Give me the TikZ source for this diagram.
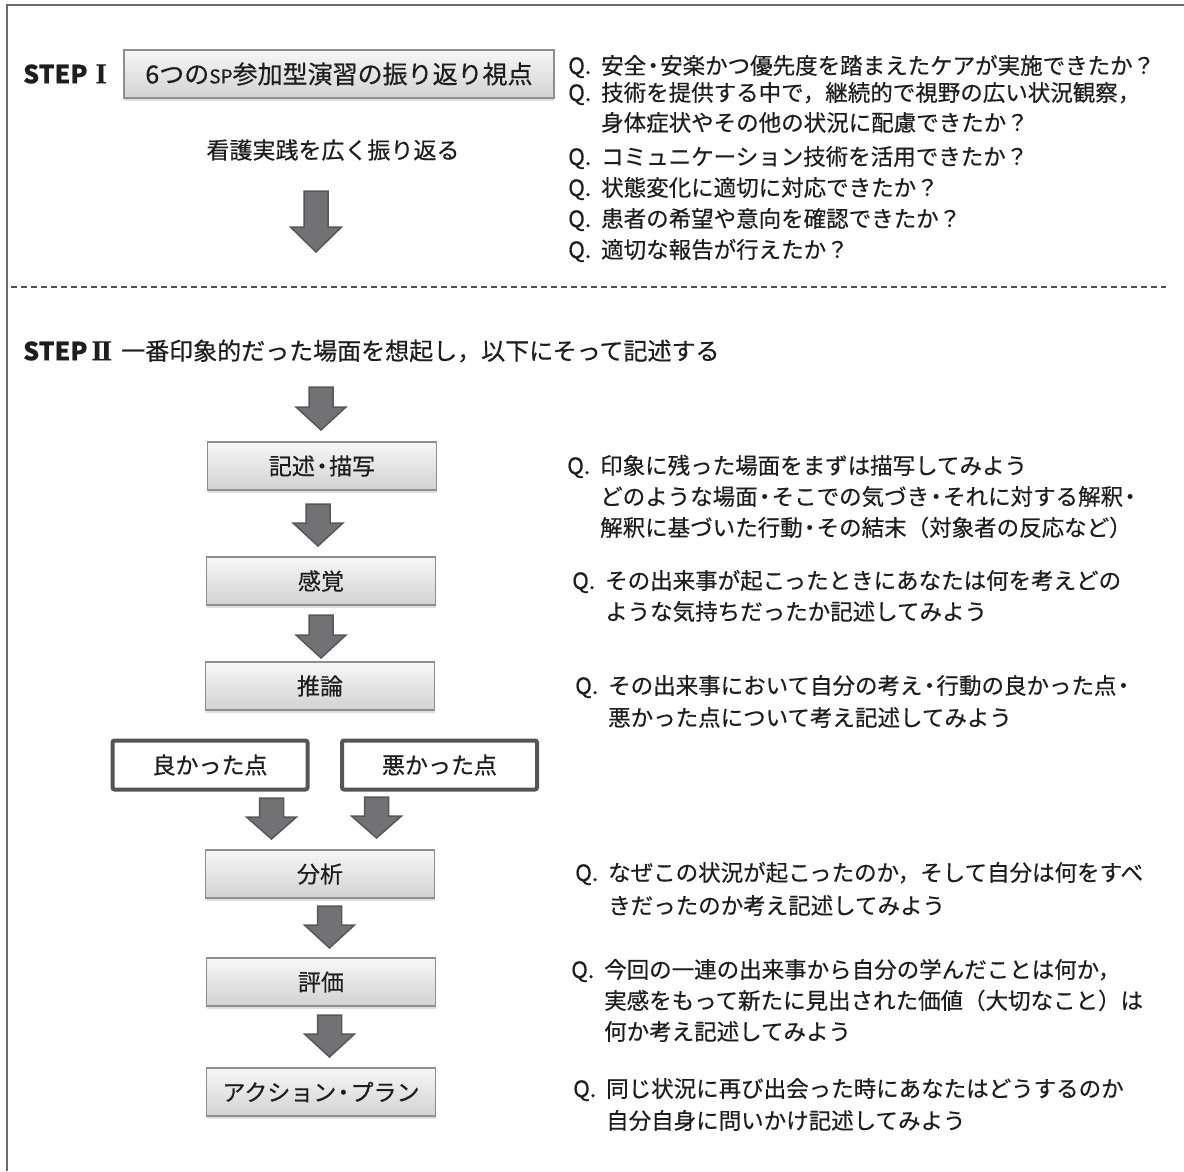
\documentclass[tikz,border=0pt]{standalone}
\usepackage{fontspec}
\usepackage{graphicx}
\setmainfont{Noto Sans CJK JP}[FakeBold=0.5]
\newfontfamily\numfont{Liberation Serif}[FakeBold=0.5]
\usetikzlibrary{calc,shadows}
\definecolor{framec}{HTML}{6B6B6B}
\definecolor{dashc}{HTML}{505050}
\definecolor{boxline}{HTML}{8E8E8E}
\definecolor{boxtop}{HTML}{F7F7F7}
\definecolor{boxbot}{HTML}{D2D2D2}
\definecolor{arrowfill}{HTML}{727274}
\definecolor{arrowline}{HTML}{575757}
\definecolor{thickline}{HTML}{555555}
\definecolor{txt}{HTML}{1E1E1E}
\newcommand{\Qm}{\makebox[33pt][l]{Q.}}
\newcommand{\QI}{\hspace*{33pt}}
\newcommand{\nd}{\makebox[0.62em][c]{・}}
\newcommand{\blockarrow}[5]{% top coordinate, total length, shaft length, shaft half width, head half width
  \filldraw[fill=arrowfill, draw=arrowline, line width=1.5pt, line join=miter]
    ($(#1)+(-#4,0)$) -- ($(#1)+(#4,0)$) -- ($(#1)+(#4,#3)$) -- ($(#1)+(#5,#3)$)
    -- ($(#1)+(0,#2)$) -- ($(#1)+(-#5,#3)$) -- ($(#1)+(-#4,#3)$) -- cycle;}
\tikzset{
  graybox/.style={draw=boxline, line width=1.2pt, top color=boxtop, bottom color=boxbot,
    minimum width=229pt, minimum height=48pt, inner sep=0pt, text=txt,
    font=\fontsize{23}{23}\selectfont,
    drop shadow={shadow xshift=0pt, shadow yshift=-3pt, opacity=0.25}},
  thickbox/.style={draw=thickline, line width=4pt, rounded corners=2pt, fill=white,
    minimum width=195pt, minimum height=49pt, inner sep=0pt, text=txt,
    font=\fontsize{23}{23}\selectfont},
  qline/.style={anchor=base west, inner sep=0pt, text=txt, font=\fontsize{22.5}{22.5}\selectfont},
  steplbl/.style={anchor=west, inner sep=0pt, text=txt, font=\bfseries\fontsize{25}{25}\selectfont},
  plaintext/.style={inner sep=0pt, text=txt, font=\fontsize{23}{23}\selectfont},
}
\begin{document}
\begin{tikzpicture}[x=1pt, y=-1pt]
\useasboundingbox (0,0) rectangle (1184,1171);
% frame
\draw[framec, line width=2.2pt] (7,1171) -- (7,5) -- (1184,5);
% ---------- STEP I ----------
\node[steplbl] (s1) at (23,74) {STEP\hspace{8pt}{\numfont\bfseries\fontsize{29}{29}\selectfont I}};
\node[graybox, minimum width=430pt, minimum height=48pt, font=\fontsize{25}{25}\selectfont] (b0) at (339,74)
  {6つの{\fontsize{19}{19}\selectfont SP}参加型演習の振り返り視点};
\node[plaintext] (kango) at (333,150) {看護実践を広く振り返る};
\coordinate (ar0) at (316,191);
\blockarrow{ar0}{61}{36}{12}{25.5}
\node[qline] (q1a) at (568,74) {\Qm 安全\nd 安楽かつ優先度を踏まえたケアが実施できたか？};
\node[qline] (q1b) at (568,101) {\Qm 技術を提供する中で，継続的で視野の広い状況観察，};
\node[qline] (q1c) at (568,131) {\QI 身体症状やその他の状況に配慮できたか？};
\node[qline] (q1d) at (568,165) {\Qm コミュニケーション技術を活用できたか？};
\node[qline] (q1e) at (568,196) {\Qm 状態変化に適切に対応できたか？};
\node[qline] (q1f) at (568,227) {\Qm 患者の希望や意向を確認できたか？};
\node[qline] (q1g) at (568,258) {\Qm 適切な報告が行えたか？};
% dashed separator
\draw[dashc, line width=1.4pt, dash pattern=on 6pt off 4pt] (11,287) -- (1166,287);
% ---------- STEP II ----------
\node[steplbl] (s2) at (23,351) {STEP\hspace{4pt}{\numfont\bfseries\fontsize{29}{29}\selectfont I\kern-2pt I}};
\node[plaintext, anchor=west, font=\fontsize{24}{24}\selectfont] (s2t) at (121,351) {一番印象的だった場面を想起し，以下にそって記述する};
\coordinate (ar1) at (321,387);
\blockarrow{ar1}{43}{20}{12}{25}
\node[graybox] (desc) at (322,466) {記述\nd 描写};
\coordinate (ar2) at (318,504);
\blockarrow{ar2}{42}{19}{12}{25}
\node[graybox] (sense) at (321,581) {感覚};
\coordinate (ar3) at (321,615);
\blockarrow{ar3}{43}{20}{12}{25}
\node[graybox] (infer) at (320,686) {推論};
\node[thickbox] (good) at (210,765) {良かった点};
\node[thickbox] (bad) at (439.5,765) {悪かった点};
\coordinate (ar4a) at (271.5,798);
\blockarrow{ar4a}{41}{19}{12}{25}
\coordinate (ar4b) at (376.5,797);
\blockarrow{ar4b}{41}{19}{12}{25}
\node[graybox] (anal) at (320,874) {分析};
\coordinate (ar5) at (329.5,906);
\blockarrow{ar5}{42}{19}{12}{25}
\node[graybox] (eval) at (321,982) {評価};
\coordinate (ar6) at (329.5,1015);
\blockarrow{ar6}{42}{19}{12}{25}
\node[graybox] (act) at (321,1092) {アクション\nd プラン};
% questions STEP II
\node[qline] (q2a) at (567,474) {\Qm 印象に残った場面をまずは描写してみよう};
\node[qline] (q2b) at (567,505) {\QI どのような場面\nd そこでの気づき\nd それに対する解釈\nd};
\node[qline] (q2c) at (567,536) {\QI 解釈に基づいた行動\nd その結末（対象者の反応など）};
\node[qline] (q3a) at (572,589) {\Qm その出来事が起こったときにあなたは何を考えどの};
\node[qline] (q3b) at (572,620) {\QI ような気持ちだったか記述してみよう};
\node[qline] (q4a) at (575,694) {\Qm その出来事において自分の考え\nd 行動の良かった点\nd};
\node[qline] (q4b) at (575,726) {\QI 悪かった点について考え記述してみよう};
\node[qline] (q5a) at (575,881) {\Qm なぜこの状況が起こったのか，そして自分は何をすべ};
\node[qline] (q5b) at (575,914) {\QI きだったのか考え記述してみよう};
\node[qline] (q6a) at (571,978) {\Qm 今回の一連の出来事から自分の学んだことは何か，};
\node[qline] (q6b) at (571,1009) {\QI 実感をもって新たに見出された価値（大切なこと）は};
\node[qline] (q6c) at (571,1040) {\QI 何か考え記述してみよう};
\node[qline] (q7a) at (573,1097) {\Qm 同じ状況に再び出会った時にあなたはどうするのか};
\node[qline] (q7b) at (573,1129) {\QI 自分自身に問いかけ記述してみよう};
\end{tikzpicture}
\end{document}
